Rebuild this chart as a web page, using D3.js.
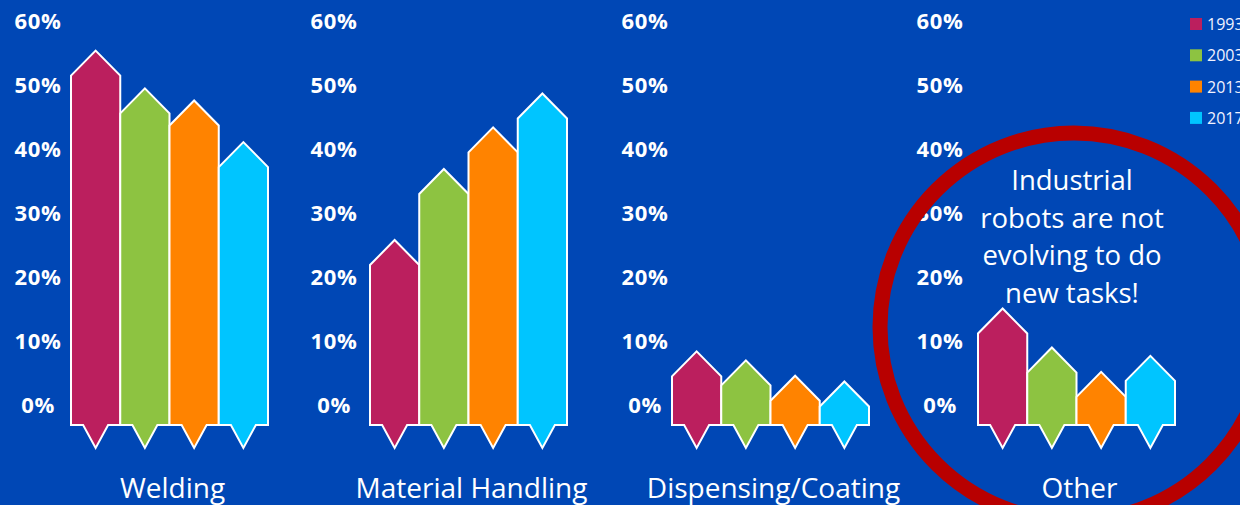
<!DOCTYPE html>
<html>
<head>
<meta charset="utf-8">
<script src="https://cdn.jsdelivr.net/npm/d3@7"></script>
<style>
  html, body { margin: 0; padding: 0; background: #0047b5; }
  svg { display: block; font-family: "Open Sans", sans-serif; }
  .tick text { fill: #fff; font-weight: 700; font-size: 22px; letter-spacing: 0.6px; }
  .cat-label { fill: #fff; font-size: 28px; }
  .callout { fill: #fff; font-size: 27.5px; }
  .legend-text { fill: #f0f2ff; font-size: 16px; }
</style>
</head>
<body>
<svg id="chart"></svg>
<script>
// data (share of robot installations, %)
const years = ["1993", "2003", "2013", "2017"];
const categories = ["Welding", "Material Handling", "Dispensing/Coating", "Other"];
const welding = [55.3, 49.4, 47.5, 41.0];
const materialHandling = [25.7, 36.8, 43.3, 48.6];
const dispensing = [8.3, 6.9, 4.5, 3.6];
const other = [15.0, 8.9, 5.1, 7.6];
const tickValues = [0, 10, 20, 30, 40, 50, 60];
const calloutLines = ["Industrial", "robots are not", "evolving to do", "new tasks!"];

const series = [welding, materialHandling, dispensing, other];
const colors = ["#bb1f5e", "#8dc341", "#ff8300", "#00c5ff"];

let width = 1240;
let height = 505;
let node = document.getElementById("chart");
let svg = d3.select(node).attr("width", width).attr("height", height);

// panel layout
let panelX = [71, 370, 672, 978];
let axisX = [38, 334, 645, 940];
let panelWidth = 197;
let headH = 25;     // arrow head height
let tailH = 23;     // notch below the base
let baseGap = 20.5; // base sits below the 0% label

// Y scale shared by all panels
let y = d3.scaleLinear()
    .domain([0, 60])
    .range([404.5, 20.5]);

let x = d3.scaleBand()
    .domain(years)
    .range([0, panelWidth]);

let color = d3.scaleOrdinal()
    .domain(years)
    .range(colors);

function barPath(v, i) {
    let x0 = x(years[i]);
    let x1 = x0 + x.bandwidth();
    let xc = (x0 + x1) / 2;
    let top = y(v);
    let base = y(0) + baseGap;
    let tw = 12.5;
    return "M" + x0 + "," + base +
        "L" + x0 + "," + (top + headH) +
        "L" + xc + "," + top +
        "L" + x1 + "," + (top + headH) +
        "L" + x1 + "," + base +
        "L" + (xc + tw) + "," + base +
        "L" + xc + "," + (base + tailH) +
        "L" + (xc - tw) + "," + base + "Z";
}

categories.forEach((cat, p) => {
    // Y-axis labels
    let yAxis = d3.axisLeft(y)
        .tickValues(tickValues)
        .tickSize(0)
        .tickFormat(d => d + "%");

    let ga = svg.append("g")
        .attr("transform", "translate(" + axisX[p] + ",0)")
        .call(yAxis);
    ga.select(".domain").remove();
    ga.selectAll("text")
        .attr("x", 0)
        .attr("dy", "0.35em")
        .attr("text-anchor", "middle");
    ga.attr("font-family", null).attr("font-size", null);

    // Bars
    let g = svg.append("g")
        .attr("transform", "translate(" + panelX[p] + ",0)");

    g.selectAll("path.bar")
        .data(series[p])
        .enter().append("path")
        .attr("class", "bar")
        .attr("d", (d, i) => barPath(d, i))
        .attr("fill", (d, i) => color(years[i]))
        .attr("stroke", "#fff")
        .attr("stroke-width", 2)
        .attr("stroke-linejoin", "miter");

    // Category title
    svg.append("text")
        .attr("class", "cat-label")
        .attr("text-anchor", "middle")
        .attr("x", panelX[p] + panelWidth / 2 + 3)
        .attr("y", 498)
        .text(cat);
});

// Callout ring
svg.append("circle")
    .attr("cx", 1074)
    .attr("cy", 327)
    .attr("r", 194)
    .attr("fill", "none")
    .attr("stroke", "#b80000")
    .attr("stroke-width", 15);

svg.append("g")
    .selectAll("text")
    .data(calloutLines)
    .enter().append("text")
    .attr("class", "callout")
    .attr("text-anchor", "middle")
    .attr("x", 1072)
    .attr("y", (d, i) => 190 + i * 37.5)
    .text(d => d);

// Legend
let legend = svg.append("g")
    .selectAll("g")
    .data(years)
    .enter().append("g")
    .attr("transform", (d, i) => "translate(1190," + (18 + i * 31.3) + ")");

legend.append("rect")
    .attr("width", 12)
    .attr("height", 12)
    .attr("fill", d => color(d));

legend.append("text")
    .attr("class", "legend-text")
    .attr("x", 17)
    .attr("y", 12)
    .text(d => d);
</script>
</body>
</html>
